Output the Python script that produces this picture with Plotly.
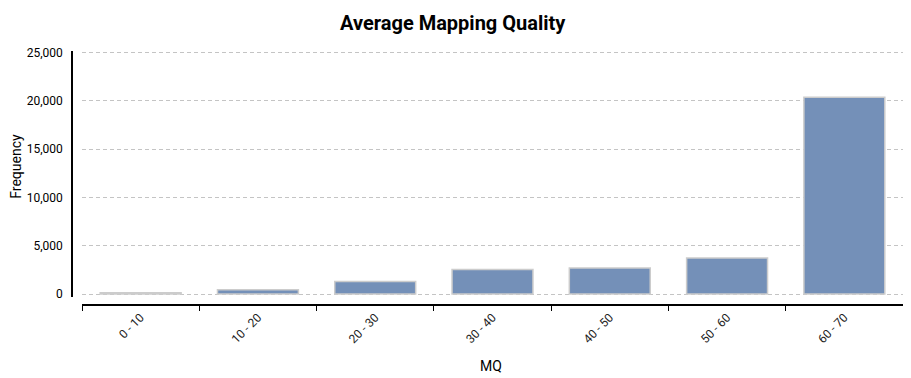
import plotly.graph_objects as go

categories = ["0 - 10", "10 - 20", "20 - 30", "30 - 40", "40 - 50", "50 - 60", "60 - 70"]
frequency = [130, 440, 1300, 2540, 2680, 3740, 20360]
y_ticks = [0, 5000, 10000, 15000, 20000, 25000]

W, H = 911, 378
# the page body adds an 8px offset, so margins are measured from that
L, R, T, B = 64, 16, 42.5, 81
pw = W - L - R
ph = H - T - B


def px_to_paper(fx, fy):
    return (fx - L) / pw, (H - B - fy) / ph


fig = go.Figure(go.Bar(
    x=categories, y=frequency,
    marker=dict(color="#7490b8", line=dict(color="#cccccc", width=1.5)),
    hoverinfo="x+y",
))

tx, ty = px_to_paper(445, 0)
mx, my = px_to_paper(483, 358.5)
fx, fy = px_to_paper(8, 158.5)

fig.update_layout(
    width=W, height=H,
    margin=dict(l=L, r=R, t=T, b=B, pad=0),
    paper_bgcolor="white", plot_bgcolor="white",
    font=dict(family="Roboto", color="#000"),
    bargap=0.31,
    showlegend=False,
    xaxis=dict(
        domain=[10 / pw, 1], anchor="free", position=0,
        type="category", range=[-0.5, 6.5],
        tickson="boundaries", ticks="outside", ticklen=5, tickcolor="#000",
        showline=True, linecolor="#000", linewidth=1.5,
        tickangle=-45, tickfont=dict(size=12, color="#222"),
        showgrid=False, zeroline=False, automargin=False,
    ),
    yaxis=dict(
        domain=[8 / ph, 1], anchor="free", position=0,
        range=[-310, 25150], tickvals=y_ticks, tickformat=",",
        showline=True, linecolor="#000", linewidth=1.5,
        ticks="", ticklabelstandoff=6, automargin=False,
        tickfont=dict(size=12, color="#000"),
        showgrid=True, gridcolor="#c4c4c4", griddash="4px,3px", gridwidth=1,
        zeroline=False,
    ),
    annotations=[
        dict(text="<b>Average Mapping Quality</b>", xref="paper", yref="paper",
             x=tx, y=ty, xanchor="center", yanchor="top", showarrow=False,
             font=dict(size=20, family="Roboto", color="#000")),
        dict(text="MQ", xref="paper", yref="paper",
             x=mx, y=my, xanchor="center", yanchor="middle", showarrow=False,
             font=dict(size=14, family="Roboto", color="#000")),
        dict(text="Frequency", xref="paper", yref="paper", textangle=-90,
             x=fx, y=fy, xanchor="center", yanchor="middle", showarrow=False,
             font=dict(size=14, family="Roboto", color="#000")),
    ],
)

fig.write_html("out.html")
